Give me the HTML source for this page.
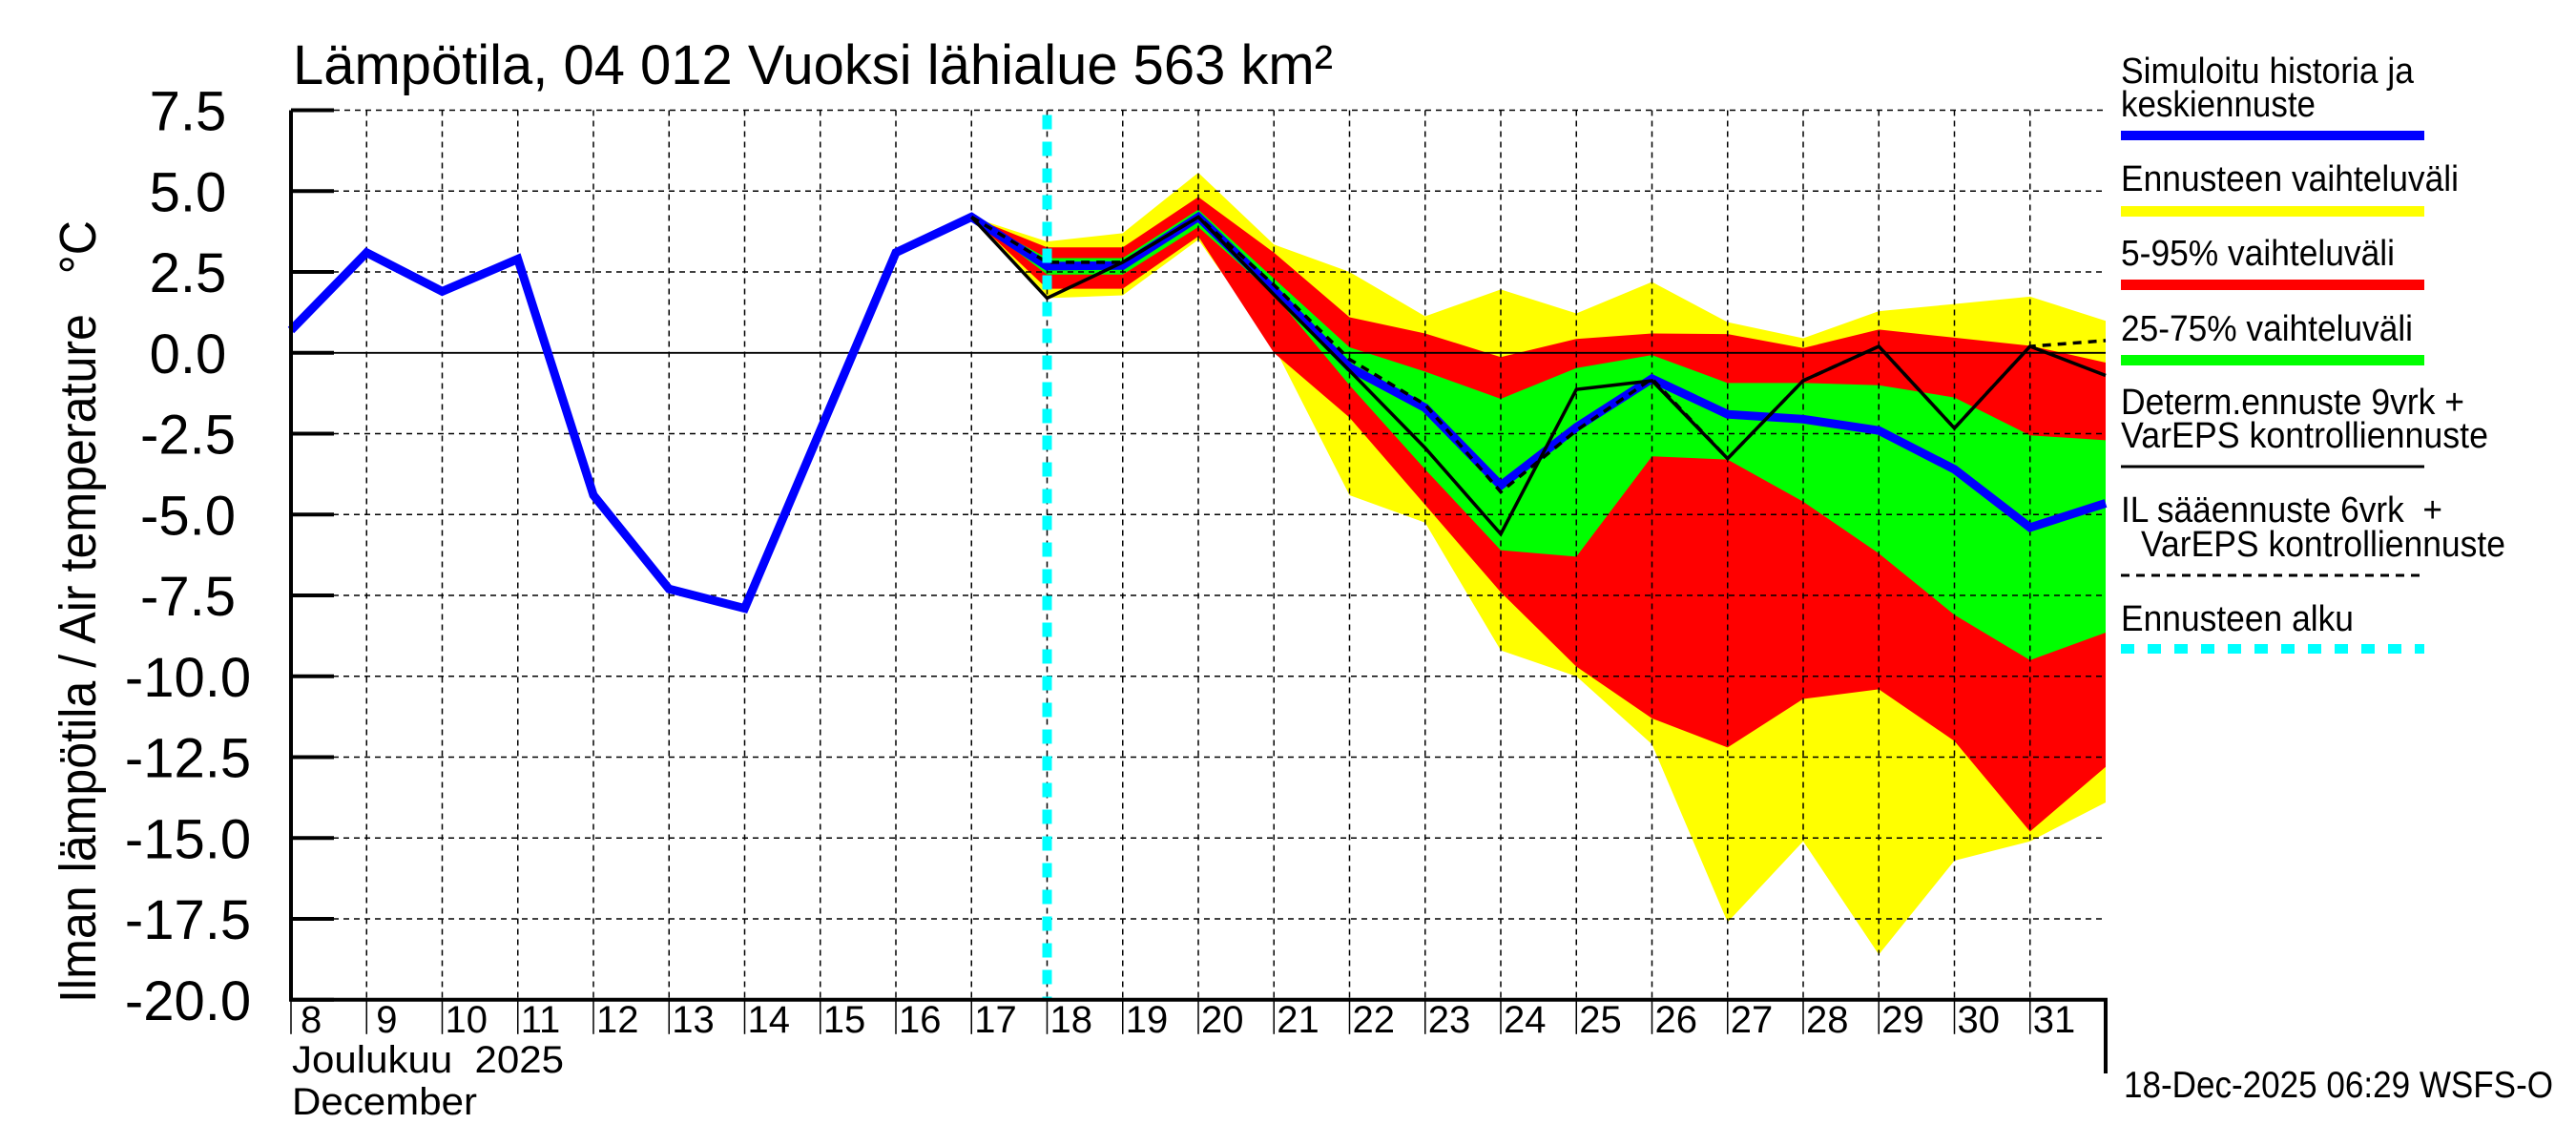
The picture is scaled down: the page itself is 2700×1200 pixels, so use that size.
<!DOCTYPE html>
<html><head><meta charset="utf-8"><style>
html,body{margin:0;padding:0;background:#fff;}
svg{display:block;font-family:"Liberation Sans",sans-serif;}
</style></head><body>
<svg id="chart" width="2700" height="1200" viewBox="0 0 2700 1200" xmlns="http://www.w3.org/2000/svg">
<g id="bands"></g>
<g id="grid"></g>
<g id="lines"></g>
<g id="axes"></g>
<text x="307" y="88" font-size="58" textLength="1090" lengthAdjust="spacingAndGlyphs">Lämpötila, 04 012 Vuoksi lähialue 563 km²</text>
<text transform="translate(100,641) rotate(-90)" text-anchor="middle" font-size="54" textLength="820" lengthAdjust="spacingAndGlyphs">Ilman lämpötila / Air temperature &#160;&#160;°C</text>
<text x="306" y="1124" font-size="40" textLength="285" lengthAdjust="spacingAndGlyphs">Joulukuu &#160;2025</text>
<text x="306" y="1168" font-size="40" textLength="194" lengthAdjust="spacingAndGlyphs">December</text>
<text x="2226" y="1150" font-size="39" textLength="450" lengthAdjust="spacingAndGlyphs">18-Dec-2025 06:29 WSFS-O</text>
<g font-size="38">
<text x="2223" y="87" textLength="307" lengthAdjust="spacingAndGlyphs">Simuloitu historia ja</text>
<text x="2223" y="122" textLength="204" lengthAdjust="spacingAndGlyphs">keskiennuste</text>
<rect x="2223" y="137" width="318" height="10" fill="#0000ff"/>
<text x="2223" y="200" textLength="354" lengthAdjust="spacingAndGlyphs">Ennusteen vaihteluväli</text>
<rect x="2223" y="216" width="318" height="11" fill="#ffff00"/>
<text x="2223" y="278" textLength="287" lengthAdjust="spacingAndGlyphs">5-95% vaihteluväli</text>
<rect x="2223" y="293" width="318" height="11" fill="#ff0000"/>
<text x="2223" y="357" textLength="306" lengthAdjust="spacingAndGlyphs">25-75% vaihteluväli</text>
<rect x="2223" y="372" width="318" height="11" fill="#00ff00"/>
<text x="2223" y="434" textLength="360" lengthAdjust="spacingAndGlyphs">Determ.ennuste 9vrk +</text>
<text x="2223" y="469" textLength="385" lengthAdjust="spacingAndGlyphs">VarEPS kontrolliennuste</text>
<line x1="2223" y1="489" x2="2541" y2="489" stroke="#000" stroke-width="3"/>
<text x="2223" y="547" textLength="337" lengthAdjust="spacingAndGlyphs">IL sääennuste 6vrk &#160;+</text>
<text x="2244" y="583" textLength="382" lengthAdjust="spacingAndGlyphs">VarEPS kontrolliennuste</text>
<line x1="2223" y1="603" x2="2541" y2="603" stroke="#000" stroke-width="3" stroke-dasharray="9,7"/>
<text x="2223" y="661" textLength="244" lengthAdjust="spacingAndGlyphs">Ennusteen alku</text>
<line x1="2223" y1="680" x2="2541" y2="680" stroke="#00ffff" stroke-width="10" stroke-dasharray="14,14"/>
</g>
</svg>
<script>
const histDays = [8,9,10,11,12,13,14,15,16,17,18,19,20,21,22,23,24,25,26,27,28,29,30,31,32];
const simulated = [0.7,3.1,1.9,2.9,-4.4,-7.3,-7.9,-2.4,3.1,4.2,2.68,2.7,4.2,1.95,-0.45,-1.7,-4.1,-2.3,-0.8,-1.9,-2.05,-2.4,-3.6,-5.4,-4.65];
const fcDays = [17,18,19,20,21,22,23,24,25,26,27,28,29,30,31,32];
const yellowHigh = [4.2,3.44,3.7,5.57,3.35,2.5,1.13,1.96,1.22,2.19,0.95,0.45,1.29,1.51,1.74,0.99];
const yellowLow  = [4.2,1.69,1.78,3.5,0.2,-4.4,-5.25,-9.2,-10.0,-12.1,-17.6,-15.1,-18.6,-15.7,-15.1,-13.9];
const redHigh    = [4.2,3.26,3.26,4.82,3.1,1.1,0.6,-0.13,0.43,0.6,0.58,0.15,0.72,0.47,0.22,-0.3];
const redLow     = [4.2,1.98,1.98,3.6,0.0,-2.0,-4.7,-7.4,-9.7,-11.3,-12.2,-10.7,-10.4,-12.0,-14.8,-12.8];
const greenHigh  = [4.2,2.93,2.93,4.43,2.3,0.17,-0.58,-1.42,-0.47,-0.07,-0.93,-0.93,-1.0,-1.38,-2.55,-2.7];
const greenLow   = [4.2,2.42,2.42,3.89,1.8,-1.0,-3.6,-6.1,-6.3,-3.2,-3.3,-4.6,-6.2,-8.1,-9.5,-8.65];
const determ     = [4.2,1.69,2.8,4.2,1.8,-0.55,-2.94,-5.6,-1.13,-0.86,-3.27,-0.86,0.2,-2.33,0.2,-0.7];
const ilForecast = [4.2,2.8,2.8,4.2,2.1,-0.2,-1.6,-4.3,-2.4,-0.8,-3.27,-0.86,0.2,-2.33,0.2,0.38];
const yTicks = [7.5,5,2.5,0,-2.5,-5,-7.5,-10,-12.5,-15,-17.5,-20];
const yTickLabels = ["7.5","5.0","2.5","0.0","-2.5","-5.0","-7.5","-10.0","-12.5","-15.0","-17.5","-20.0"];
const xTickDays = [8,9,10,11,12,13,14,15,16,17,18,19,20,21,22,23,24,25,26,27,28,29,30,31];
const forecastStart = 18;

const X0=305, X1=2207, D0=8, D1=32, Y0=369.8, PU=33.9;
function x(d){return X0+(d-D0)*(X1-X0)/(D1-D0);}
function y(v){return Y0-v*PU;}
const NS="http://www.w3.org/2000/svg";
function mk(tag,attrs,parent){const e=document.createElementNS(NS,tag);for(const k in attrs)e.setAttribute(k,attrs[k]);parent.appendChild(e);return e;}
const bandsG=document.getElementById('bands'),gridG=document.getElementById('grid'),linesG=document.getElementById('lines'),axesG=document.getElementById('axes');

function band(hi,lo,color,name){
  let pts=fcDays.map((d,i)=>x(d)+","+y(hi[i]));
  for(let i=fcDays.length-1;i>=0;i--)pts.push(x(fcDays[i])+","+y(lo[i]));
  const p=mk('polygon',{points:pts.join(" "),fill:color},bandsG);
  
  
}
band(yellowHigh,yellowLow,"#ffff00","band-range");
band(redHigh,redLow,"#ff0000","band-5-95");
band(greenHigh,greenLow,"#00ff00","band-25-75");

yTicks.forEach((v,i)=>{
  if(v!==0&&v!==7.5&&v!==-20){
    const g=mk('line',{x1:X0,y1:y(v),x2:X1,y2:y(v),stroke:"#000","stroke-width":1.5,"stroke-dasharray":"6,5"},gridG);
    
    
  }
  const t=mk('text',{x:197,y:y(v)+21,"text-anchor":"middle","font-size":58},axesG);
  t.textContent=yTickLabels[i];
  
  
  const tk=mk('line',{x1:X0,y1:y(v),x2:X0+45,y2:y(v),stroke:"#000","stroke-width":4},axesG);
  
  
});
const topGrid=mk('line',{x1:X0+45,y1:y(7.5),x2:X1,y2:y(7.5),stroke:"#000","stroke-width":1.5,"stroke-dasharray":"6,5"},gridG);


xTickDays.forEach(d=>{
  if(d>D0){
    const g=mk('line',{x1:x(d),y1:y(7.5),x2:x(d),y2:y(-20),stroke:"#000","stroke-width":1.5,"stroke-dasharray":"6,5"},gridG);
    
    
  }
  const tk=mk('line',{x1:x(d),y1:y(-20),x2:x(d),y2:y(-20)+36,stroke:"#000","stroke-width":1.5},axesG);
  
  
  const t=mk('text',{x:x(d)+(d<10?10:3),y:1082,"font-size":40},axesG);
  t.textContent=String(d);
  
  
});
const zl=mk('line',{x1:X0,y1:y(0),x2:X1,y2:y(0),stroke:"#000","stroke-width":1.8},gridG);



function poly(days,vals,attrs,name){
  const p=mk('polyline',Object.assign({points:days.map((d,i)=>x(d)+","+y(vals[i])).join(" "),fill:"none","stroke-linejoin":"miter"},attrs),linesG);
  
  
}
poly(histDays,simulated,{stroke:"#0000ff","stroke-width":9},"simulated-line");
poly(fcDays,determ,{stroke:"#000","stroke-width":3.5},"determ-line");
poly(fcDays,ilForecast,{stroke:"#000","stroke-width":3.5,"stroke-dasharray":"9,7"},"il-forecast-line");
const fsl=mk('line',{x1:x(forecastStart),y1:y(7.5)+5,x2:x(forecastStart),y2:y(-20),stroke:"#00ffff","stroke-width":10,"stroke-dasharray":"15,13"},linesG);



const axf=mk('path',{d:`M${X0},${y(7.5)} V${y(-20)} H${X1} V1125`,fill:"none",stroke:"#000","stroke-width":4},axesG);


</script>
</body></html>
